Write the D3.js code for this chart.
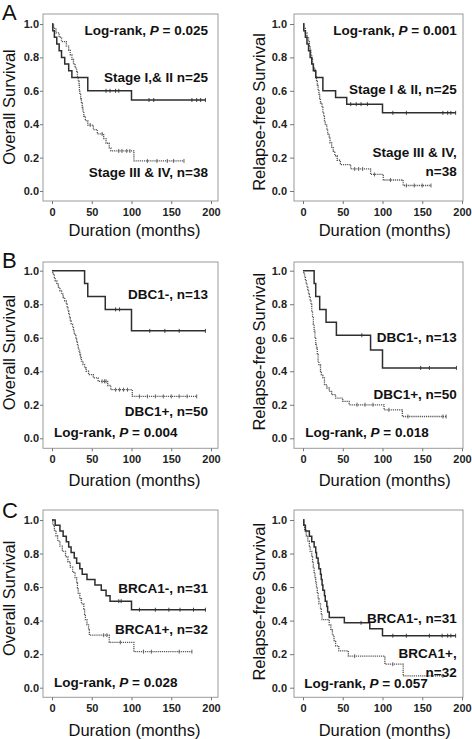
<!DOCTYPE html>
<html><head><meta charset="utf-8">
<script src="https://cdn.jsdelivr.net/npm/d3@7"></script>
<style>body{margin:0;background:#fff}</style>
</head><body>
<svg id="c" width="472" height="739"></svg>
<script>
// ---------- DATA (time in months, survival after the step) ----------
const xTicks = [0, 50, 100, 150, 200];
const yTicks = [0, 0.2, 0.4, 0.6, 0.8, 1.0];
const yTickLabels = ["0.0", "0.2", "0.4", "0.6", "0.8", "1.0"];

// A: Overall survival by stage
const osStageEarlyEvents = [[1,0.96],[3,0.92],[6,0.88],[9,0.84],[12,0.80],[16,0.76],[21,0.72],[25,0.68],[45,0.60],[100,0.545]];
const osStageEarlyCensor = [68,73,80,84,122,128,176,182,187,193];
const osStageLateEvents = [[2,0.974],[5,0.947],[9,0.921],[12,0.895],[18,0.868],[21,0.842],[23,0.816],[25,0.789],[27,0.763],[29,0.737],[31,0.711],[32,0.684],[33,0.658],[34,0.632],[34.5,0.605],[35,0.579],[36,0.553],[37,0.526],[38,0.500],[39,0.474],[40,0.447],[42,0.421],[45,0.395],[52,0.368],[57,0.342],[65,0.314],[68,0.286],[72,0.258],[74,0.24],[103,0.18]];
const osStageLateCensor = [48,63,84,88,94,98,120,132,145,153,166];
// A: Relapse-free survival by stage
const rfsStageEarlyEvents = [[1,0.96],[3,0.92],[5,0.88],[7,0.84],[9,0.80],[11,0.76],[13,0.72],[16,0.68],[25,0.60],[41,0.56],[55,0.52],[100,0.468]];
const rfsStageEarlyCensor = [60,67,73,81,113,130,176,182,186,192];
const rfsStageLateEvents = [[1,0.974],[3,0.947],[5,0.921],[7,0.895],[8,0.868],[9,0.842],[10,0.816],[11,0.789],[12,0.763],[13,0.737],[15,0.711],[16,0.684],[17,0.658],[18,0.632],[19,0.605],[20,0.579],[21,0.553],[22,0.526],[24,0.500],[25,0.474],[26,0.447],[27,0.421],[28,0.395],[30,0.368],[31,0.342],[33,0.316],[34,0.289],[36,0.263],[38,0.237],[40,0.211],[43,0.184],[47,0.158],[60,0.132],[85,0.099],[101,0.066],[126,0.033]];
const rfsStageLateCensor = [65,70,75,90,110,130,140,150,161];

// B: Overall survival by DBC1
const osDbcNegEvents = [[41,0.923],[45,0.846],[67,0.769],[100,0.641]];
const osDbcNegCensor = [80,85,123,142,160,193];
const osDbcPosEvents = [[1,0.98],[3,0.96],[4,0.94],[6,0.92],[8,0.90],[10,0.88],[12,0.86],[14,0.84],[16,0.82],[18,0.80],[19,0.78],[20,0.76],[21,0.74],[22,0.72],[23,0.70],[24,0.68],[26,0.66],[27,0.64],[28,0.62],[30,0.60],[31,0.58],[32,0.56],[33,0.54],[34,0.52],[35,0.50],[36,0.48],[37,0.46],[39,0.44],[41,0.42],[43,0.40],[46,0.38],[52,0.36],[58,0.34],[70,0.315],[74,0.29],[101,0.25]];
const osDbcPosCensor = [63,66,68,80,85,90,95,110,120,130,140,150,160,170,182];
// B: Relapse-free survival by DBC1
const rfsDbcNegEvents = [[14,0.923],[16,0.846],[21,0.769],[29,0.692],[42,0.615],[85,0.527],[100,0.42]];
const rfsDbcNegCensor = [74,148,159,193];
const rfsDbcPosEvents = [[1,0.98],[2,0.96],[3,0.94],[4,0.92],[5,0.90],[6,0.88],[7,0.86],[8,0.84],[9,0.82],[10,0.80],[11,0.76],[12,0.72],[13,0.68],[14,0.64],[15,0.60],[16,0.56],[17,0.54],[18,0.50],[19,0.46],[20,0.44],[22,0.40],[23,0.38],[25,0.36],[27,0.32],[30,0.30],[33,0.28],[36,0.26],[41,0.24],[50,0.22],[58,0.20],[102,0.17],[125,0.13]];
const rfsDbcPosCensor = [68,78,88,108,132,176,180];

// C: Overall survival by BRCA1
const osBrcaNegEvents = [[4,0.968],[10,0.935],[14,0.903],[18,0.871],[21,0.839],[24,0.806],[28,0.774],[31,0.742],[35,0.710],[38,0.677],[44,0.645],[54,0.613],[62,0.581],[68,0.548],[73,0.516],[100,0.465]];
const osBrcaNegCensor = [84,87,110,130,147,161,178,193];
const osBrcaPosEvents = [[1,0.969],[3,0.938],[5,0.906],[7,0.875],[10,0.844],[13,0.813],[17,0.781],[20,0.75],[23,0.719],[26,0.688],[29,0.656],[31,0.625],[32,0.594],[33,0.563],[35,0.531],[37,0.50],[40,0.469],[41,0.438],[42,0.406],[44,0.375],[46,0.344],[47,0.313],[72,0.27],[103,0.215]];
const osBrcaPosCensor = [65,69,86,115,125,160,176];
// C: Relapse-free survival by BRCA1
const rfsBrcaNegEvents = [[1,0.968],[3,0.935],[8,0.903],[11,0.871],[14,0.839],[16,0.806],[17,0.774],[19,0.742],[20,0.710],[22,0.677],[23,0.645],[24,0.613],[25,0.581],[27,0.548],[28,0.516],[30,0.484],[31,0.452],[33,0.419],[52,0.387],[84,0.352],[100,0.31]];
const rfsBrcaNegCensor = [73,113,130,159,175,182,186,192];
const rfsBrcaPosEvents = [[1,0.969],[2,0.938],[4,0.906],[6,0.875],[8,0.844],[9,0.813],[11,0.781],[12,0.75],[13,0.719],[14,0.688],[15,0.656],[16,0.625],[17,0.594],[18,0.563],[19,0.531],[20,0.50],[22,0.469],[23,0.438],[24,0.406],[33,0.375],[35,0.344],[37,0.313],[39,0.281],[41,0.25],[45,0.219],[57,0.188],[103,0.14],[126,0.07]];
const rfsBrcaPosCensor = [65,113,176];

const panelLetters = ["A", "B", "C"];
const xTitle = "Duration (months)";

// ---------- LAYOUT ----------
const FONT = "'Liberation Sans', Arial, Helvetica, sans-serif";
const svg = d3.select("#c");
const L = {xr:[52,211], fx:[43,218], tick:3, pad:1, ytx:15, xtc:134.5};
const R = {xr:[303,462], fx:[294,463], tick:4, pad:3, ytx:265, xtc:384.7};
const rows = [
  {yr:[191,24], fy:[14,201], xtb:236, ytcL:107, ytcR:112, letterY:20},
  {yr:[438.3,270.7], fy:[262,448.3], xtb:486, ytcL:352.5, ytcR:351.7, letterY:268},
  {yr:[687.7,520], fy:[510,697.3], xtb:736, ytcL:598.3, ytcR:601.7, letterY:518}
];

const panels = [
  {row:0, col:L, yLabel:"Overall Survival", solid:[osStageEarlyEvents,osStageEarlyCensor], dotted:[osStageLateEvents,osStageLateCensor],
   notes:[{t:["Log-rank, ",["P",1]," = 0.025"], x:208, y:35, a:"end"},
          {t:["Stage I,& II n=25"], x:208, y:81.7, a:"end"},
          {t:["Stage III & IV, n=38"], x:208, y:176.7, a:"end"}]},
  {row:0, col:R, yLabel:"Relapse-free Survival", solid:[rfsStageEarlyEvents,rfsStageEarlyCensor], dotted:[rfsStageLateEvents,rfsStageLateCensor],
   notes:[{t:["Log-rank, ",["P",1]," = 0.001"], x:456.7, y:35, a:"end"},
          {t:["Stage I & II, n=25"], x:456.7, y:94.3, a:"end"},
          {t:["Stage III & IV,"], x:456.7, y:156.7, a:"end"},
          {t:["n=38"], x:456.7, y:175.7, a:"end"}]},
  {row:1, col:L, yLabel:"Overall Survival", solid:[osDbcNegEvents,osDbcNegCensor], dotted:[osDbcPosEvents,osDbcPosCensor],
   notes:[{t:["DBC1-, n=13"], x:208, y:299.3, a:"end"},
          {t:["DBC1+, n=50"], x:208, y:415.7, a:"end"},
          {t:["Log-rank, ",["P",1]," = 0.004"], x:54, y:437.3, a:"start"}]},
  {row:1, col:R, yLabel:"Relapse-free Survival", solid:[rfsDbcNegEvents,rfsDbcNegCensor], dotted:[rfsDbcPosEvents,rfsDbcPosCensor],
   notes:[{t:["DBC1-, n=13"], x:456.7, y:341.7, a:"end"},
          {t:["DBC1+, n=50"], x:456.7, y:399.3, a:"end"},
          {t:["Log-rank, ",["P",1]," = 0.018"], x:305.3, y:437.3, a:"start"}]},
  {row:2, col:L, yLabel:"Overall Survival", solid:[osBrcaNegEvents,osBrcaNegCensor], dotted:[osBrcaPosEvents,osBrcaPosCensor],
   notes:[{t:["BRCA1-, n=31"], x:208, y:592.7, a:"end"},
          {t:["BRCA1+, n=32"], x:208, y:634, a:"end"},
          {t:["Log-rank, ",["P",1]," = 0.028"], x:54, y:687.3, a:"start"}]},
  {row:2, col:R, yLabel:"Relapse-free Survival", solid:[rfsBrcaNegEvents,rfsBrcaNegCensor], dotted:[rfsBrcaPosEvents,rfsBrcaPosCensor],
   notes:[{t:["BRCA1-, n=31"], x:456.7, y:622.7, a:"end"},
          {t:["BRCA1+,"], x:456.7, y:658.3, a:"end"},
          {t:["n=32"], x:456.7, y:676.7, a:"end"},
          {t:["Log-rank, ",["P",1]," = 0.057"], x:304.3, y:687.7, a:"start"}]}
];

function stepPoints(events, censor) {
  const pts = [[0,1]];
  let s = 1;
  events.forEach(([t,v]) => { pts.push([t,s]); pts.push([t,v]); s = v; });
  const tEnd = Math.max(events[events.length-1][0], d3.max(censor));
  pts.push([tEnd, s]);
  return pts;
}
function survAt(events, t) {
  let s = 1;
  for (const [et, v] of events) { if (et <= t) s = v; else break; }
  return s;
}

rows.forEach((r, i) => {
  svg.append("text").attr("x", 2).attr("y", r.letterY)
    .attr("font-family", FONT).attr("font-size", 22).attr("fill", "#111")
    .text(panelLetters[i]);
});

panels.forEach(p => {
  const r = rows[p.row], c = p.col;
  const x = d3.scaleLinear().domain([0,200]).range(c.xr);
  const y = d3.scaleLinear().domain([0,1]).range(r.yr);
  const g = svg.append("g");

  // frame
  g.append("rect").attr("x", c.fx[0]).attr("y", r.fy[0])
    .attr("width", c.fx[1]-c.fx[0]).attr("height", r.fy[1]-r.fy[0])
    .attr("fill", "none").attr("stroke", "#9a9a9a").attr("stroke-width", 1);

  // axes
  const ya = g.append("g").attr("transform", `translate(${c.fx[0]},0)`)
    .call(d3.axisLeft(y).tickValues(yTicks).tickSize(c.tick).tickPadding(c.pad)
      .tickFormat((d,i) => yTickLabels[i]));
  const xa = g.append("g").attr("transform", `translate(0,${r.fy[1]})`)
    .call(d3.axisBottom(x).tickValues(xTicks).tickSize(3).tickPadding(4.3));
  [ya, xa].forEach(a => {
    a.select(".domain").remove();
    a.selectAll("line").attr("stroke", "#777");
    a.selectAll("text").attr("font-family", FONT).attr("font-size", 11)
      .attr("font-weight", "bold").attr("fill", "#222");
  });

  // axis titles
  g.append("text").attr("transform", `translate(${c.ytx},${p.col===L?r.ytcL:r.ytcR}) rotate(-90)`)
    .attr("text-anchor", "middle").attr("font-family", FONT).attr("font-size", 16.5)
    .attr("fill", "#111").text(p.yLabel);
  g.append("text").attr("x", c.xtc).attr("y", r.xtb).attr("text-anchor", "middle")
    .attr("font-family", FONT).attr("font-size", 16.5).attr("fill", "#111").text(xTitle);

  const line = d3.line().x(d => x(d[0])).y(d => y(d[1]));
  const draw = (ser, stroke, width, dash) => {
    const [ev, ce] = ser;
    g.append("path").attr("d", line(stepPoints(ev, ce))).attr("fill", "none")
      .attr("stroke", stroke).attr("stroke-width", width)
      .attr("stroke-dasharray", dash);
    g.selectAll(null).data(ce).enter().append("line")
      .attr("x1", d => x(d)).attr("x2", d => x(d))
      .attr("y1", d => y(survAt(ev, d)) - 2).attr("y2", d => y(survAt(ev, d)) + 2)
      .attr("stroke", stroke).attr("stroke-width", 0.9);
  };
  draw(p.dotted, "#555", 1.3, "1.2,0.9");
  draw(p.solid, "#2e2e2e", 1.5, null);

  // annotations
  p.notes.forEach(n => {
    const t = g.append("text").attr("x", n.x).attr("y", n.y).attr("text-anchor", n.a)
      .attr("font-family", FONT).attr("font-size", 13.5).attr("font-weight", "bold").attr("fill", "#111");
    n.t.forEach(part => {
      if (Array.isArray(part)) t.append("tspan").attr("font-style", "italic").text(part[0]);
      else t.append("tspan").text(part);
    });
  });
});
</script>
</body></html>
